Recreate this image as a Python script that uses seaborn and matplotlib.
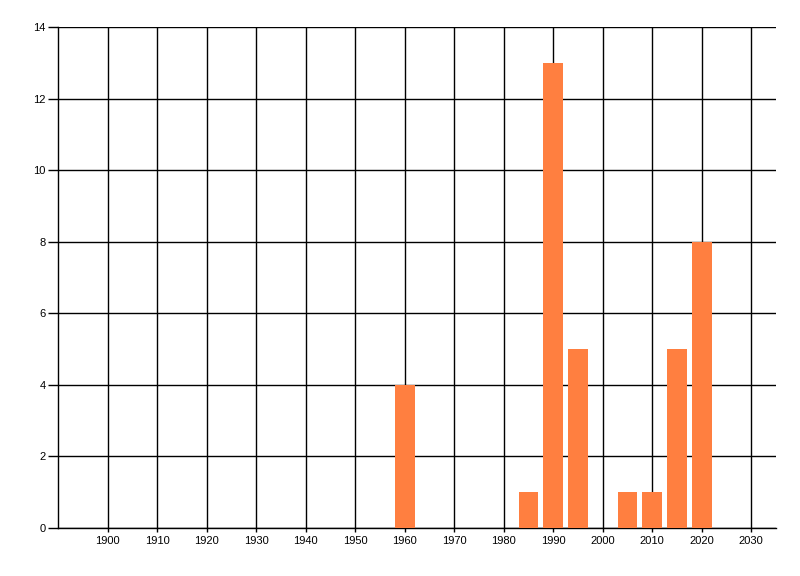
import matplotlib
matplotlib.use("Agg")
import matplotlib.pyplot as plt
import seaborn as sns
import pandas as pd

years = [1960, 1985, 1990, 1995, 2005, 2010, 2015, 2020]
counts = [4, 1, 13, 5, 1, 1, 5, 8]
x_ticks = list(range(1900, 2031, 10))
y_ticks = list(range(0, 15, 2))

sns.set_style("white")
plt.rcParams['font.family'] = ['Liberation Sans', 'DejaVu Sans']

df = pd.DataFrame({"year": years, "count": counts})

fig = plt.figure(figsize=(8, 5.76), dpi=100)
ax = fig.add_axes([58/800, 48/576, (776-58)/800, (528-27)/576])

ax.set_axisbelow(True)
ax.grid(True, color="black", linewidth=1.0)
sns.barplot(data=df, x="year", y="count", native_scale=True, width=0.8,
            color="#FF7F40", saturation=1, ax=ax, zorder=3,
            linewidth=0, edgecolor="none")

ax.set_xlim(1890, 2035)
ax.set_ylim(0, 14)
ax.set_xticks(x_ticks)
ax.set_xticklabels([str(t) for t in x_ticks])
ax.set_yticks(y_ticks)
ax.set_yticklabels([str(t) for t in y_ticks])
ax.set_xlabel("")
ax.set_ylabel("")

for s in ["top", "right"]:
    ax.spines[s].set_visible(False)
for s in ["left", "bottom"]:
    ax.spines[s].set_color("black")
    ax.spines[s].set_linewidth(1.0)

ax.tick_params(axis="y", length=7, width=1, color="black", pad=2, labelsize=8, labelcolor="black", left=True)
ax.tick_params(axis="x", length=3, width=1, color="black", pad=3, labelsize=8, labelcolor="black", bottom=True)

fig.savefig("out.png", dpi=100)
